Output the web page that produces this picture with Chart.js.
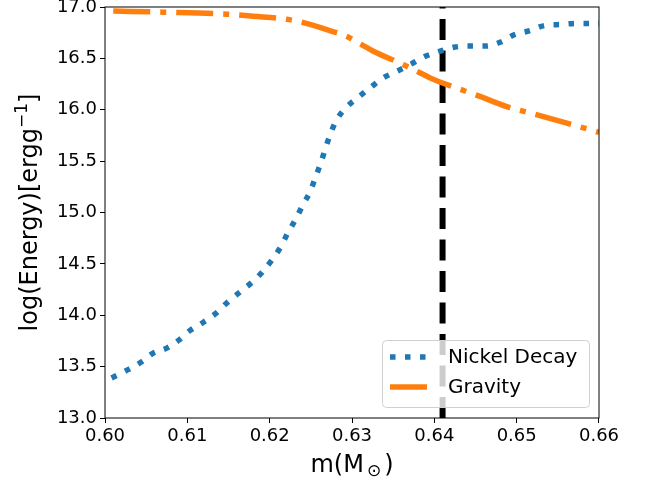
<!DOCTYPE html>
<html>
<head>
<meta charset="utf-8">
<script src="https://cdn.jsdelivr.net/npm/chart.js@4.4.1/dist/chart.umd.min.js"></script>
<style>
  html, body { margin: 0; padding: 0; background: #fff; }
  #wrap { width: 648px; height: 485px; position: relative; }
</style>
</head>
<body>
<div id="wrap"><canvas id="energyChart"></canvas></div>
<script>
// values
const nickelMass = [0.6008, 0.6028, 0.6045, 0.6058, 0.6075, 0.6090, 0.6103, 0.6119, 0.6135, 0.6148,
    0.6163, 0.6177, 0.6191, 0.6203, 0.6213, 0.6222, 0.6232, 0.6240, 0.6249, 0.6256, 0.6262, 0.6268,
    0.6274, 0.6282, 0.6294, 0.6309, 0.6323, 0.6338, 0.6356, 0.6373, 0.6389, 0.6407, 0.6425, 0.6443,
    0.6463, 0.6481, 0.6497, 0.6516, 0.6534, 0.6554, 0.6572, 0.6600];
const nickelEnergy = [13.39, 13.47, 13.55, 13.63, 13.68, 13.76, 13.85, 13.93, 14.02, 14.12,
    14.22, 14.31, 14.42, 14.54, 14.66, 14.80, 14.94, 15.07, 15.20, 15.35, 15.48, 15.63,
    15.77, 15.91, 16.03, 16.13, 16.22, 16.31, 16.38, 16.45, 16.52, 16.57, 16.61, 16.62,
    16.62, 16.66, 16.73, 16.77, 16.82, 16.83, 16.84, 16.84];

const gravityMass = [0.6010, 0.6070, 0.6148, 0.6180, 0.6221, 0.6240, 0.6277, 0.6292, 0.6310, 0.6326,
    0.6362, 0.6380, 0.6395, 0.6431, 0.6452, 0.6488, 0.6525, 0.6561, 0.6600];
const gravityEnergy = [16.96, 16.95, 16.93, 16.91, 16.88, 16.85, 16.76, 16.72, 16.64, 16.57,
    16.44, 16.37, 16.31, 16.20, 16.14, 16.03, 15.95, 15.87, 15.78];

const markerMass = 0.641;
const yRange = [13.0, 17.0];
const xRange = [0.60, 0.66];

const seriesLabels = ['Nickel Decay', 'Gravity'];

const FONT = 'DejaVu Sans';

document.addEventListener('DOMContentLoaded', () => {
    const toPoints = (xs, ys) => xs.map((x, i) => ({ x: x, y: ys[i] }));

    // frame on all four sides + axis labels
    const framePlugin = {
        id: 'frame',
        afterDatasetsDraw(chart) {
            const { ctx, chartArea: a } = chart;
            ctx.save();
            ctx.strokeStyle = '#000';
            ctx.lineWidth = 1;
            ctx.strokeRect(a.left, a.top, a.right - a.left, a.bottom - a.top);
            ctx.restore();
        },
        afterDraw(chart) {
            const { ctx, chartArea: a } = chart;
            ctx.save();
            ctx.fillStyle = '#000';
            ctx.textBaseline = 'alphabetic';

            // x label: m(M_sun)
            const big = `24px "${FONT}"`;
            const small = `17px "${FONT}"`;
            ctx.font = big;
            const p1 = 'm(M', p3 = ')';
            ctx.font = small;
            const w2 = ctx.measureText('\u2299').width + 6;
            ctx.font = big;
            const w1 = ctx.measureText(p1).width, w3 = ctx.measureText(p3).width;
            let x = (a.left + a.right) / 2 - (w1 + w2 + w3) / 2;
            const by = 472;
            ctx.fillText(p1, x, by);
            ctx.font = small;
            ctx.fillText('\u2299', x + w1 + 3, by + 4);
            ctx.font = big;
            ctx.fillText(p3, x + w1 + w2, by);

            // y label: log(Energy)[ergg^-1]
            ctx.translate(37, (a.top + a.bottom) / 2);
            ctx.rotate(-Math.PI / 2);
            const q1 = 'log(Energy)[ergg', q2 = '\u22121', q3 = ']';
            ctx.font = big;
            const v1 = ctx.measureText(q1).width, v3 = ctx.measureText(q3).width;
            ctx.font = small;
            const v2 = ctx.measureText(q2).width;
            x = -(v1 + v2 + v3) / 2;
            ctx.font = big;
            ctx.fillText(q1, x, 0);
            ctx.font = small;
            ctx.fillText(q2, x + v1, -10);
            ctx.font = big;
            ctx.fillText(q3, x + v1 + v2, 0);
            ctx.restore();
        }
    };

    // legend box in the lower right corner of the axes
    const legendPlugin = {
        id: 'innerLegend',
        afterDraw(chart) {
            const { ctx, chartArea: a } = chart;
            const w = 207, h = 67;
            const bx = a.right - 10 - w, by = a.bottom - 11 - h;
            ctx.save();
            ctx.beginPath();
            ctx.roundRect(bx + 0.5, by + 0.5, w, h, 4);
            ctx.fillStyle = 'rgba(255,255,255,0.8)';
            ctx.fill();
            ctx.strokeStyle = '#d0d0d0';
            ctx.lineWidth = 1;
            ctx.stroke();

            chart.data.datasets.slice(0, 2).forEach((ds, i) => {
                const ry = by + 17 + i * 30;
                ctx.beginPath();
                ctx.strokeStyle = ds.borderColor;
                ctx.lineWidth = ds.borderWidth;
                ctx.lineCap = 'butt';
                ctx.setLineDash(ds.borderDash || []);
                ctx.moveTo(bx + 8, ry);
                ctx.lineTo(bx + 45, ry);
                ctx.stroke();
                ctx.setLineDash([]);
                ctx.fillStyle = '#000';
                ctx.font = `20px "${FONT}"`;
                ctx.textBaseline = 'middle';
                ctx.fillText(ds.label, bx + 66, ry + 1);
            });
            ctx.restore();
        }
    };

    const data = {
        datasets: [
            {
                label: seriesLabels[0],
                data: toPoints(nickelMass, nickelEnergy),
                borderColor: '#1f77b4',
                borderWidth: 5.5,
                borderDash: [5.5, 9.5],
                pointRadius: 0,
                cubicInterpolationMode: 'monotone',
                fill: false,
            },
            {
                label: seriesLabels[1],
                data: toPoints(gravityMass, gravityEnergy),
                borderColor: '#ff7f0e',
                borderWidth: 5.5,
                borderDash: [37, 10, 6, 10],
                pointRadius: 0,
                cubicInterpolationMode: 'monotone',
                fill: false,
            },
            {
                label: 'marker',
                data: [{ x: markerMass, y: yRange[0] }, { x: markerMass, y: yRange[1] }],
                borderColor: '#000',
                borderWidth: 6,
                borderDash: [21, 10.5],
                pointRadius: 0,
                fill: false,
            }
        ]
    };

    const config = {
        type: 'line',
        data: data,
        options: {
            responsive: true,
            maintainAspectRatio: false,
            animation: false,
            events: [],
            layout: { padding: { top: 7, right: 49, left: 0, bottom: 0 } },
            plugins: {
                legend: { display: false },
                tooltip: { enabled: false },
                title: { display: false }
            },
            scales: {
                x: {
                    type: 'linear',
                    min: xRange[0],
                    max: xRange[1],
                    afterFit: (s) => { s.height = 67; s.paddingLeft = 0; s.paddingRight = 0; },
                    afterBuildTicks: (s) => {
                        s.ticks = [0, 1, 2, 3, 4, 5, 6].map(i => ({ value: xRange[0] + i * 0.01 }));
                    },
                    ticks: {
                        color: '#000',
                        font: { family: FONT, size: 18 },
                        padding: 3,
                        maxRotation: 0,
                        autoSkip: false,
                        callback: (v) => Number(v).toFixed(2)
                    },
                    grid: { drawOnChartArea: false, drawTicks: true, tickLength: 5, color: '#000' },
                    border: { display: false }
                },
                y: {
                    min: yRange[0],
                    max: yRange[1],
                    afterFit: (s) => { s.width = 105; s.paddingTop = 0; s.paddingBottom = 0; },
                    ticks: {
                        stepSize: 0.5,
                        color: '#000',
                        font: { family: FONT, size: 18 },
                        padding: 3,
                        autoSkip: false,
                        callback: (v) => Number(v).toFixed(1)
                    },
                    grid: { drawOnChartArea: false, drawTicks: true, tickLength: 5, color: '#000' },
                    border: { display: false }
                }
            }
        },
        plugins: [framePlugin, legendPlugin]
    };

    const ctx = document.getElementById('energyChart').getContext('2d');
    new Chart(ctx, config);
});
</script>
</body>
</html>
